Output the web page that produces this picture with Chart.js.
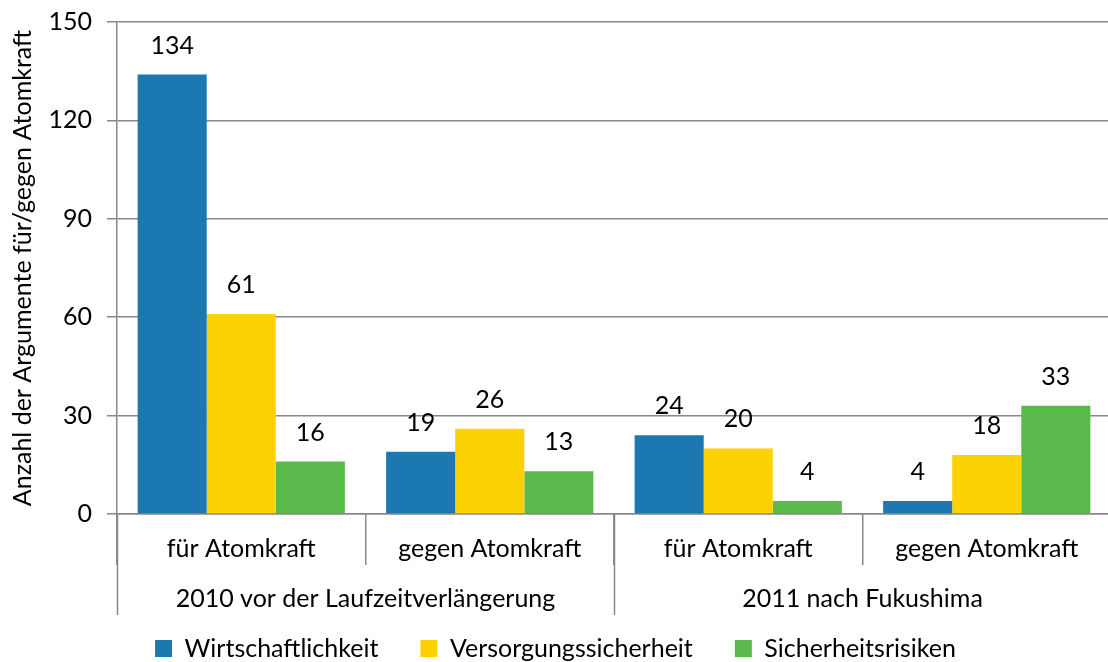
<!DOCTYPE html>
<html>
<head>
<meta charset="utf-8">
<script src="https://cdn.jsdelivr.net/npm/chart.js@4"></script>
<style>
  html, body { margin: 0; padding: 0; background: #fff; overflow: hidden; }
  #wrap { width: 1108px; height: 662px; overflow: hidden; }
</style>
</head>
<body>
<div id="wrap"><canvas id="c" width="1111" height="662"></canvas></div>
<script>
const categories = ['für Atomkraft', 'gegen Atomkraft', 'für Atomkraft', 'gegen Atomkraft'];
const groups = ['2010 vor der Laufzeitverlängerung', '2011 nach Fukushima'];
const wirtschaft = [134, 19, 24, 4];
const versorgung = [61, 26, 20, 18];
const sicherheit = [16, 13, 4, 33];
const yTicks = [0, 30, 60, 90, 120, 150];

const FONT = 'Lato, "Open Sans", sans-serif';
const GRID = '#888888';

// value labels above bars
const valueLabels = {
  id: 'valueLabels',
  afterDatasetsDraw(chart) {
    const ctx = chart.ctx;
    ctx.save();
    ctx.font = '25px ' + FONT;
    ctx.fillStyle = '#000';
    ctx.textAlign = 'center';
    ctx.textBaseline = 'middle';
    chart.data.datasets.forEach((ds, i) => {
      chart.getDatasetMeta(i).data.forEach((bar, j) => {
        ctx.fillText(String(ds.data[j]), bar.x, bar.y - 29);
      });
    });
    ctx.restore();
  }
};

// second row of category labels + long separators
const groupLabels = {
  id: 'groupLabels',
  afterDraw(chart) {
    const x = chart.scales.x, ctx = chart.ctx;
    const half = (x.getPixelForValue(1) - x.getPixelForValue(0)) / 2;
    const top = x.top, bottom = top + 101;
    ctx.save();
    ctx.strokeStyle = GRID;
    ctx.lineWidth = 1.5;
    [0, 2, 4].forEach(i => {
      const px = Math.round(x.getPixelForValue(0) - half + i * 2 * half) + 0.5;
      ctx.beginPath(); ctx.moveTo(px, top); ctx.lineTo(px, bottom); ctx.stroke();
    });
    ctx.font = '25px ' + FONT;
    ctx.fillStyle = '#000';
    ctx.textAlign = 'center';
    ctx.textBaseline = 'middle';
    groups.forEach((g, k) => {
      const cx = (x.getPixelForValue(2 * k) + x.getPixelForValue(2 * k + 1)) / 2;
      ctx.fillText(g, cx, top + 85);
    });
    ctx.restore();
  }
};

new Chart(document.getElementById('c'), {
  type: 'bar',
  data: {
    labels: categories,
    datasets: [
      { label: 'Wirtschaftlichkeit', data: wirtschaft, backgroundColor: '#1b78b0' },
      { label: 'Versorgungssicherheit', data: versorgung, backgroundColor: '#fdd205' },
      { label: 'Sicherheitsrisiken', data: sicherheit, backgroundColor: '#59b94a' }
    ]
  },
  options: {
    responsive: false,
    animation: false,
    devicePixelRatio: 1,
    layout: { padding: 0 },
    datasets: { bar: { categoryPercentage: 0.834, barPercentage: 1.0, borderWidth: 0 } },
    plugins: {
      legend: {
        position: 'bottom',
        maxHeight: 68,
        labels: {
          font: { family: FONT, size: 25 },
          color: '#000',
          boxWidth: 17,
          boxHeight: 17,
          padding: 42
        },
        onClick: null
      },
      tooltip: { enabled: false }
    },
    scales: {
      x: {
        grid: { display: true, drawOnChartArea: false, drawTicks: true, tickLength: 51, offset: true, color: GRID, lineWidth: 1.5 },
        border: { display: true, color: GRID, width: 1.5 },
        ticks: { font: { family: FONT, size: 25 }, color: '#000', padding: -31, maxRotation: 0 },
        afterFit(scale) { scale.height = 80; scale.paddingLeft = 0; scale.paddingRight = 0; }
      },
      y: {
        min: 0,
        max: 150,
        afterBuildTicks(scale) { scale.ticks = yTicks.map(v => ({ value: v })); },
        afterFit(scale) { scale.width = 117; scale.paddingTop = 22; },
        grid: { color: GRID, lineWidth: 1.5, tickLength: 10 },
        border: { display: true, color: GRID, width: 1.5 },
        ticks: { font: { family: FONT, size: 25 }, color: '#000', padding: 15 },
        title: { display: true, text: 'Anzahl der Argumente für/gegen Atomkraft', font: { family: FONT, size: 25 }, color: '#000', padding: { top: 8, bottom: 0 } }
      }
    }
  },
  plugins: [valueLabels, groupLabels]
});
</script>
</body>
</html>
